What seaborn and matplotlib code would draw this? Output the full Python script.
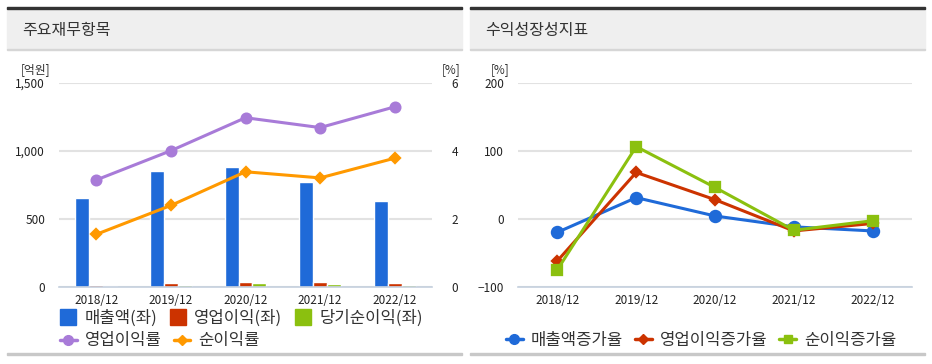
import seaborn as sns
import matplotlib.pyplot as plt
import pandas as pd
from matplotlib.lines import Line2D
from matplotlib.patches import Rectangle

# data
years = ['2018/12', '2019/12', '2020/12', '2021/12', '2022/12']
sales = [650, 851, 878, 770, 630]
op_profit = [15, 25, 33, 33, 25]
net_profit = [5, 12, 25, 22, 12]
op_margin = [3.14, 4.0, 4.97, 4.68, 5.29]
net_margin = [1.54, 2.39, 3.38, 3.2, 3.78]

sales_growth = [-20, 31, 4, -12, -18]
op_growth = [-62, 68, 28, -18, -7]
net_growth = [-75, 106, 46, -17, -3]

bar_names = ['매출액(좌)', '영업이익(좌)', '당기순이익(좌)']
rate_names = ['영업이익률', '순이익률']
growth_names = ['매출액증가율', '영업이익증가율', '순이익증가율']

blue, red, green = '#1f6ad8', '#cc3300', '#8bc00f'
purple, orange = '#a87bd8', '#ff9900'

bars = pd.DataFrame({
    'year': years * 3,
    'item': [n for n in bar_names for _ in years],
    'value': sales + op_profit + net_profit,
})
rates = pd.DataFrame({
    'year': years * 2,
    'item': [n for n in rate_names for _ in years],
    'value': op_margin + net_margin,
})
growth = pd.DataFrame({
    'year': years * 3,
    'item': [n for n in growth_names for _ in years],
    'value': sales_growth + op_growth + net_growth,
})

sns.set_theme(style='white')
plt.rcParams['font.family'] = ['Noto Sans CJK KR', 'DejaVu Sans']
txt = '#333333'

W, H = 932, 364
fig = plt.figure(figsize=(W / 100, H / 100), dpi=100)


def px(x, y, w, h):
    return [x / W, 1 - (y + h) / H, w / W, h / H]


# panel frames
for x0, x1, title in [(7, 462, '주요재무항목'), (470, 925, '수익성장성지표')]:
    fig.patches.append(Rectangle((x0 / W, 1 - 49 / H), (x1 - x0) / W, 41 / H,
                                 transform=fig.transFigure, color='#efefef', zorder=0))
    fig.patches.append(Rectangle((x0 / W, 1 - 9 / H), (x1 - x0) / W, 2.5 / H,
                                 transform=fig.transFigure, color='#333333', zorder=1))
    fig.patches.append(Rectangle((x0 / W, 1 - 50 / H), (x1 - x0) / W, 1 / H,
                                 transform=fig.transFigure, color='#d6d6d6', zorder=1))
    fig.patches.append(Rectangle((x0 / W, 1 - 355 / H), (x1 - x0) / W, 2 / H,
                                 transform=fig.transFigure, color='#c8c8c8', zorder=1))
    fig.text((x0 + 15) / W, 1 - 30 / H, title, fontsize=11.5, color=txt, va='center')


def style_axis(ax):
    for s in ['top', 'left', 'right']:
        ax.spines[s].set_visible(False)
    ax.spines['bottom'].set_color('#c5d0de')
    ax.spines['bottom'].set_linewidth(1.2)
    ax.set_xlim(-0.5, 4.5)
    ax.set_xticks(range(5))
    ax.set_xticklabels(years)
    ax.set_xticks([i - 0.5 for i in range(6)], minor=True)
    ax.tick_params(axis='x', which='major', length=0, pad=5, labelsize=8.5, labelcolor='#222222')
    ax.tick_params(axis='x', which='minor', length=5, color='#c5d0de', width=1.2)
    ax.tick_params(axis='y', length=0, pad=10, labelsize=8.5, labelcolor='#222222')
    ax.grid(axis='y', color='#e2e2e2', linewidth=1.5)
    ax.set_axisbelow(True)
    ax.set_xlabel('')
    ax.set_ylabel('')


# left chart
ax = fig.add_axes(px(59, 82.7, 373, 204))
sns.barplot(data=bars, x='year', y='value', hue='item', palette=[blue, red, green],
            width=0.56, saturation=1, legend=False, ax=ax)
ax.set_ylim(0, 1500)
ax.set_yticks([0, 500, 1000, 1500])
ax.set_yticklabels(['0', '500', '1,000', '1,500'])
style_axis(ax)

ax2 = ax.twinx()
sns.pointplot(data=rates, x='year', y='value', hue='item', palette=[purple, orange],
              markers=['o', 'D'], errorbar=None, markersize=7, linewidth=2.2,
              legend=False, ax=ax2)
for line, ms in zip(ax2.lines, [7, 5.5]):
    line.set_markersize(ms)
ax2.set_ylim(0, 6)
ax2.set_yticks([0, 2, 4, 6])
for s in ['top', 'left', 'right', 'bottom']:
    ax2.spines[s].set_visible(False)
ax2.tick_params(axis='y', length=0, pad=14, labelsize=8.5, labelcolor='#222222')
ax2.set_ylabel('')
ax2.set_xlim(-0.5, 4.5)

fig.text(50 / W, 1 - 70 / H, '[억원]', fontsize=8.5, color=txt, ha='right', va='center')
fig.text(451 / W, 1 - 70 / H, '[%]', fontsize=8.5, color=txt, ha='center', va='center')

# right chart
ax3 = fig.add_axes(px(518, 82.7, 394, 204))
sns.pointplot(data=growth, x='year', y='value', hue='item', palette=[blue, red, green],
              markers=['o', 'D', 's'], errorbar=None, markersize=7.5, linewidth=2.2,
              legend=False, ax=ax3)
for line, ms in zip(ax3.lines, [8, 5.5, 7.5]):
    line.set_markersize(ms)
ax3.set_ylim(-100, 200)
ax3.set_yticks([-100, 0, 100, 200])
style_axis(ax3)
fig.text(510 / W, 1 - 70 / H, '[%]', fontsize=8.5, color=txt, ha='right', va='center')

# legends
leg_kw = dict(frameon=False, fontsize=12, labelcolor=txt, handletextpad=0.5,
              borderaxespad=0, borderpad=0, loc='center left')
h1 = [Line2D([], [], marker='s', linestyle='', markersize=12, color=c) for c in [blue, red, green]]
fig.legend(h1, bar_names, ncol=3, columnspacing=0.7, handlelength=1.0,
           bbox_to_anchor=(60 / W, 1 - 318 / H), **leg_kw)
h2 = [Line2D([], [], marker=m, color=c, linewidth=2.5, markersize=ms)
      for m, c, ms in [('o', purple, 7), ('D', orange, 5)]]
fig.legend(h2, rate_names, ncol=2, columnspacing=0.7, handlelength=1.0,
           bbox_to_anchor=(60 / W, 1 - 341 / H), **leg_kw)
h3 = [Line2D([], [], marker=m, color=c, linewidth=2.5, markersize=ms)
      for m, c, ms in [('o', blue, 7), ('D', red, 5), ('s', green, 6)]]
fig.legend(h3, growth_names, ncol=3, columnspacing=0.7, handlelength=1.0,
           bbox_to_anchor=(506 / W, 1 - 340 / H), **leg_kw)

fig.savefig('out.png', dpi=100)
